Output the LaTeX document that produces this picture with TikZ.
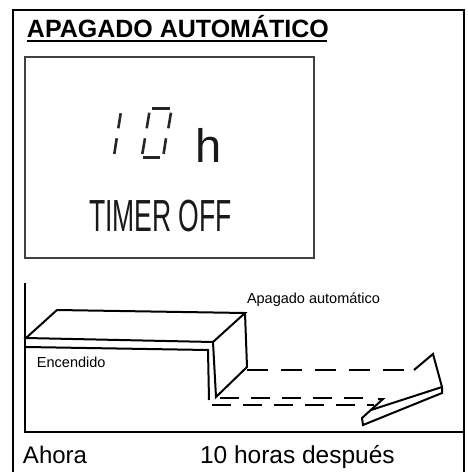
\documentclass[tikz,border=0pt]{standalone}
\usepackage{fontspec}
\setmainfont{Liberation Sans}
\begin{document}
\begin{tikzpicture}[x=1pt,y=-1pt,line join=miter,
  lbl/.style={inner sep=0pt,outer sep=0pt,anchor=base west},
  seg/.style={line width=2.6pt,draw=black!85,line cap=butt},
  gline/.style={line width=2pt},
  dshA/.style={line width=2pt,dash pattern=on 21pt off 13pt},
  dshB/.style={line width=2pt,dash pattern=on 19pt off 12pt}]
\useasboundingbox (0,0) rectangle (467,472);
% outer frame
\draw[line width=2pt] (13,472) -- (13,10) -- (464,10) -- (464,472);
% title
\node[lbl,font=\bfseries\fontsize{25}{30}\selectfont] (title) at (27,37) {APAGADO AUTOMÁTICO};
\draw[line width=2pt] (27,41) -- (327,41);
% LCD box
\draw[line width=2.5pt,draw=black!75] (25,57) rectangle (314,258);
% digit 1
\draw[seg] (120.7,113.3) -- (118.3,128.3);
\draw[seg] (116.7,138.3) -- (114.3,154);
% digit 0
\draw[seg] (152.3,108.3) -- (170,108.3);
\draw[seg] (149.3,112.7) -- (146.7,128.3);
\draw[seg] (171,112.7) -- (168.3,128.3);
\draw[seg] (145,138.3) -- (142.3,154);
\draw[seg] (166,138.3) -- (163.6,154);
\draw[seg] (143.3,157.3) -- (160,157.3);
\node[lbl,font=\fontsize{47}{50}\selectfont,text=black!90] (hr) at (195,162) {h};
\node[lbl,font=\fontsize{45}{50}\selectfont,text=black!90] (timer) at (89,231) {\scalebox{0.59}[1]{TIMER OFF}};
% graph axes
\draw[gline] (25,283) -- (25,432) -- (464,432);
% block
\draw[gline] (26,338) -- (57,310) -- (245,313) -- (213,342) -- cycle;
\draw[gline] (26,347) -- (208,350) -- (209,400);
\draw[gline] (213,342) -- (216,397) -- (247,367) -- (245,313);
% dashed lines
\draw[dshA] (247,370) -- (415,370);
\draw[gline] (414,370) -- (433,354) -- (442,387) -- (442,393) -- (363,425) -- (362,418) -- (383,399) -- (378,399);
\draw[dshB] (220,398) -- (372,398);
\draw[dshB] (212,405) -- (374,405);
\draw[gline] (442,387) -- (371,410);
% labels
\node[lbl,font=\fontsize{14.5}{16}\selectfont] (enc) at (37,367) {Encendido};
\node[lbl,font=\fontsize{14.5}{16}\selectfont] (apa) at (247,303) {Apagado automático};
\node[lbl,font=\fontsize{24}{28}\selectfont] (ahora) at (23,463) {Ahora};
\node[lbl,font=\fontsize{24.5}{28}\selectfont] (despues) at (200,463) {10 horas después};
\end{tikzpicture}
\end{document}
